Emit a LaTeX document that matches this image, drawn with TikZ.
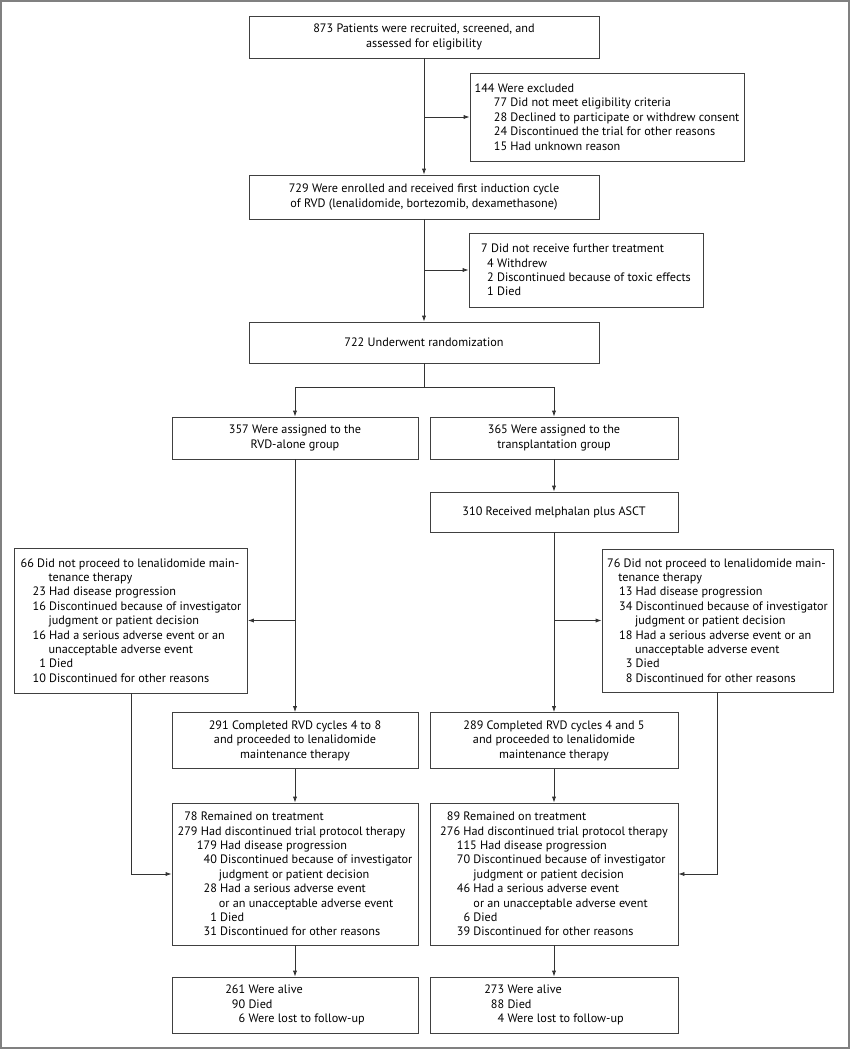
\documentclass[tikz,border=0pt]{standalone}
\usepackage{fontspec}
\setmainfont{PT Sans}
\usetikzlibrary{arrows.meta}
\newlength\dg
\newcommand\boxfont{\fontsize{12.2}{14.4}\selectfont\settowidth{\dg}{0}}
\newcommand\li[4]{\hspace*{#1\dg}\makebox[#2\dg][r]{#3}\ #4}
\newcommand\cn[2]{\hspace*{#1\dg}#2}
\tikzset{
  box/.style={draw=black!75, line width=0.8pt, rectangle, inner sep=1pt, text=black, font=\boxfont},
  lbox/.style={box, align=left},
  cbox/.style={box, align=center},
  conn/.style={draw=black!80, line width=0.8pt},
  arr/.style={conn, -{Latex[length=6pt,width=4.2pt]}},
}
\begin{document}
\begin{tikzpicture}[x=1pt,y=-1pt]
\useasboundingbox (0,0) rectangle (850,1050);
\draw[black!50, line width=2pt] (1,1) rectangle (849,1048);

\node[cbox, minimum width=350pt, minimum height=42pt] (top) at (424,37)
  {873 Patients were recruited, screened, and\\assessed for eligibility};
\node[lbox, minimum width=274pt, minimum height=88pt] (excl) at (607,117)
  {\li{0}{3}{144}{Were excluded}\\
   \li{2.9}{2}{77}{Did not meet eligibility criteria}\\
   \li{2.9}{2}{28}{Declined to participate or withdrew consent}\\
   \li{2.9}{2}{24}{Discontinued the trial for other reasons}\\
   \li{2.9}{2}{15}{Had unknown reason}};
\node[cbox, minimum width=350pt, minimum height=44pt] (enr) at (424,197)
  {729 Were enrolled and received first induction cycle\\of RVD (lenalidomide, bortezomib, dexamethasone)};
\node[lbox, minimum width=234pt, minimum height=74pt] (nofur) at (586,270)
  {\li{0}{1}{7}{Did not receive further treatment}\\
   \li{0.9}{1}{4}{Withdrew}\\
   \li{0.9}{1}{2}{Discontinued because of toxic effects}\\
   \li{0.9}{1}{1}{Died}};
\node[cbox, minimum width=350pt, minimum height=41pt] (rand) at (424,342.5)
  {722 Underwent randomization};
\node[cbox, minimum width=246pt, minimum height=42pt] (rvd) at (295,438)
  {357 Were assigned to the\\RVD-alone group};
\node[cbox, minimum width=248pt, minimum height=42pt] (tx) at (554,438)
  {365 Were assigned to the\\transplantation group};
\node[cbox, minimum width=248pt, minimum height=40pt] (mel) at (554,512)
  {310 Received melphalan plus ASCT};
\node[lbox, minimum width=233pt, minimum height=145pt] (nomL) at (131,620.5)
  {\li{0}{2}{66}{Did not proceed to lenalidomide main-}\\
   \cn{4.2}{tenance therapy}\\
   \li{1.8}{2}{23}{Had disease progression}\\
   \li{1.8}{2}{16}{Discontinued because of investigator}\\
   \cn{4.2}{judgment or patient decision}\\
   \li{1.8}{2}{16}{Had a serious adverse event or an}\\
   \cn{4.2}{unacceptable adverse event}\\
   \li{1.8}{2}{1}{Died}\\
   \li{1.8}{2}{10}{Discontinued for other reasons}};
\node[lbox, minimum width=231pt, minimum height=143pt] (nomR) at (717.5,620.5)
  {\li{0}{2}{76}{Did not proceed to lenalidomide main-}\\
   \cn{1.7}{tenance therapy}\\
   \li{1.8}{2}{13}{Had disease progression}\\
   \li{1.8}{2}{34}{Discontinued because of investigator}\\
   \cn{4.2}{judgment or patient decision}\\
   \li{1.8}{2}{18}{Had a serious adverse event or an}\\
   \cn{4.2}{unacceptable adverse event}\\
   \li{1.8}{2}{3}{Died}\\
   \li{1.8}{2}{8}{Discontinued for other reasons}};
\node[cbox, minimum width=246pt, minimum height=56pt] (cL) at (295,740.5)
  {291 Completed RVD cycles 4 to 8\\and proceeded to lenalidomide\\maintenance therapy};
\node[cbox, minimum width=248pt, minimum height=56pt] (cR) at (554,740.5)
  {289 Completed RVD cycles 4 and 5\\and proceeded to lenalidomide\\maintenance therapy};
\node[lbox, minimum width=246pt, minimum height=142pt] (tL) at (295,874)
  {\li{0}{3}{78}{Remained on treatment}\\
   \li{0}{3}{279}{Had discontinued trial protocol therapy}\\
   \li{2.9}{3}{179}{Had disease progression}\\
   \li{2.9}{3}{40}{Discontinued because of investigator}\\
   \cn{6.2}{judgment or patient decision}\\
   \li{2.9}{3}{28}{Had a serious adverse event}\\
   \cn{6.2}{or an unacceptable adverse event}\\
   \li{2.9}{3}{1}{Died}\\
   \li{2.9}{3}{31}{Discontinued for other reasons}};
\node[lbox, minimum width=248pt, minimum height=142pt] (tR) at (554,874)
  {\li{0}{3}{89}{Remained on treatment}\\
   \li{0}{3}{276}{Had discontinued trial protocol therapy}\\
   \li{2.5}{3}{115}{Had disease progression}\\
   \li{2.5}{2}{70}{Discontinued because of investigator}\\
   \cn{5}{judgment or patient decision}\\
   \li{2.5}{2}{46}{Had a serious adverse event}\\
   \cn{5}{or an unacceptable adverse event}\\
   \li{2.5}{2}{6}{Died}\\
   \li{2.5}{2}{39}{Discontinued for other reasons}};
\node[lbox, minimum width=246pt, minimum height=56pt] (fL) at (295,1005)
  {\li{0}{3}{261}{Were alive}\\
   \li{0}{3}{90}{Died}\\
   \li{0}{3}{6}{Were lost to follow-up}};
\node[lbox, minimum width=248pt, minimum height=56pt] (fR) at (554,1005)
  {\li{0}{3}{273}{Were alive}\\
   \li{0}{3}{88}{Died}\\
   \li{0}{3}{4}{Were lost to follow-up}};

\coordinate (split) at (424,387);

\draw[arr] (top.south) -- (enr.north);
\draw[arr] (top.south |- excl.west) -- (excl.west);
\draw[arr] (enr.south) -- (rand.north);
\draw[arr] (enr.south |- nofur.west) -- (nofur.west);
\draw[conn] (rand.south) -- (split);
\draw[arr] (split) -| (rvd.north);
\draw[arr] (split) -| (tx.north);
\draw[arr] (tx.south) -- (mel.north);
\draw[arr] (rvd.south) -- (cL.north);
\draw[arr] (rvd.south |- nomL.east) -- (nomL.east);
\draw[arr] (mel.south) -- (cR.north);
\draw[arr] (mel.south |- nomR.west) -- (nomR.west);
\draw[arr] (cL.south) -- (tL.north);
\draw[arr] (cR.south) -- (tR.north);
\draw[arr] (nomL.south) |- (tL.west);
\draw[arr] (nomR.south) |- (tR.east);
\draw[arr] (tL.south) -- (fL.north);
\draw[arr] (tR.south) -- (fR.north);
\end{tikzpicture}
\end{document}
